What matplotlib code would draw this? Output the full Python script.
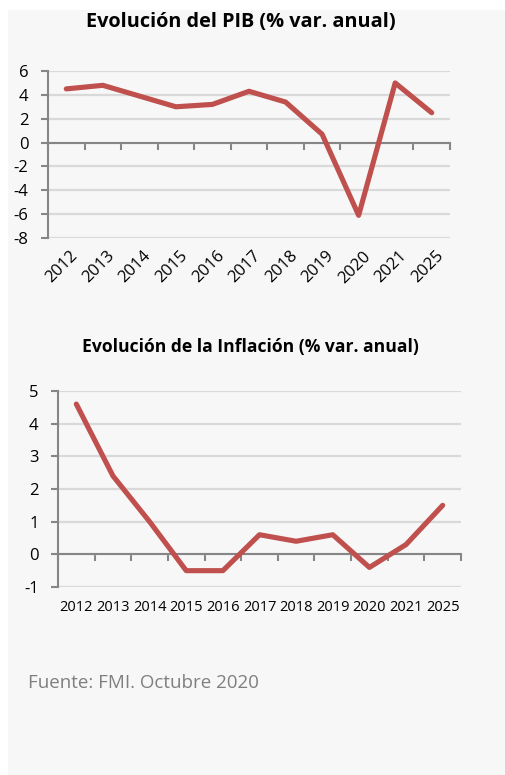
import matplotlib.pyplot as plt
from matplotlib.patches import Rectangle

years = ['2012', '2013', '2014', '2015', '2016', '2017', '2018', '2019', '2020', '2021', '2025']
pib = [4.5, 4.8, 3.9, 3.0, 3.2, 4.3, 3.4, 0.7, -6.1, 5.0, 2.5]
inflacion = [4.6, 2.4, 1.0, -0.5, -0.5, 0.6, 0.4, 0.6, -0.4, 0.3, 1.5]

W, H = 505, 775
RED = '#c0504d'
AXC = '#868686'
GRID = '#d9d9d9'

plt.rcParams['font.family'] = ['Open Sans', 'DejaVu Sans']

fig = plt.figure(figsize=(W / 100, H / 100), dpi=100, facecolor='white')
# fondo gris claro del panel
fig.add_artist(Rectangle((8 / W, 0), 1, 1 - 10 / H, transform=fig.transFigure,
                         facecolor='#f7f7f7', edgecolor='none', zorder=0))


def px_axes(left, top, right, bottom):
    return fig.add_axes([left / W, 1 - bottom / H, (right - left) / W, (bottom - top) / H])


def setup(ax, vals, ylim, ystep):
    x = list(range(len(vals)))
    ax.set_facecolor('none')
    ax.plot(x, vals, color=RED, lw=3.7, solid_capstyle='round', solid_joinstyle='round', zorder=3)
    ax.set_xlim(-0.5, len(vals) - 0.5)
    ax.set_ylim(*ylim)
    yt = list(range(ylim[0], ylim[1] + 1, ystep))
    ax.set_yticks(yt)
    ax.set_yticklabels([str(v) for v in yt])
    ax.yaxis.grid(True, color=GRID, lw=1.6)
    ax.set_axisbelow(True)
    for s in ['top', 'right']:
        ax.spines[s].set_visible(False)
    ax.spines['left'].set_color(AXC)
    ax.spines['left'].set_linewidth(1.5)
    ax.spines['bottom'].set_position(('data', 0))
    ax.spines['bottom'].set_color(AXC)
    ax.spines['bottom'].set_linewidth(1.5)
    ax.set_xticks([i - 0.5 for i in range(len(vals) + 1)])
    ax.set_xticklabels([])
    ax.tick_params(axis='x', length=5, width=1.5, color=AXC, direction='out')
    ax.tick_params(axis='y', length=5, width=1.5, color=AXC, pad=9, labelsize=12, labelcolor='black')
    return x


# PIB
ax1 = px_axes(48, 71, 450, 238)
x1 = setup(ax1, pib, (-8, 6), 2)
for i, lab in zip(x1, years):
    ax1.text(i + 0.1, -0.06, lab, transform=ax1.get_xaxis_transform(), rotation=45,
             rotation_mode='anchor', ha='right', va='top', fontsize=12)
fig.text(241 / W, 1 - 22 / H, 'Evolución del PIB (% var. anual)', ha='center', va='center',
         fontsize=14.3, fontweight='bold')

# Inflación
ax2 = px_axes(58, 391, 461, 587)
x2 = setup(ax2, inflacion, (-1, 5), 1)
for i, lab in zip(x2, years):
    ax2.text(i, -0.105, lab, transform=ax2.get_xaxis_transform(),
             ha='center', va='center', fontsize=10.5)
fig.text(250 / W, 1 - 347 / H, 'Evolución de la Inflación (% var. anual)', ha='center', va='center',
         fontsize=12.6, fontweight='bold')

fig.text(28 / W, 1 - 683 / H, 'Fuente: FMI. Octubre 2020', ha='left', va='center',
         fontsize=13.5, color='#7f7f7f')

fig.savefig('out.png', dpi=100, facecolor='white')
